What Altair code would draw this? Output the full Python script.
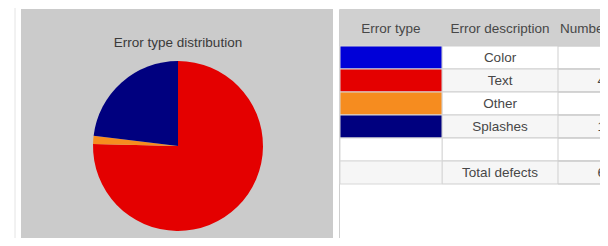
import altair as alt
import pandas as pd

# ---- data ----
error_types = ["Color", "Text", "Other", "Splashes"]
defect_counts = [0, 49, 1, 15]
type_colors = ["#0000d8", "#e40000", "#f68c1f", "#00007f"]
header_labels = ["Error type", "Error description", "Number of defects"]
total_label = "Total defects"
chart_title = "Error type distribution"

total = sum(defect_counts)

FONT = "Liberation Sans"
TXT = "#474747"

pie_df = pd.DataFrame({"type": error_types, "count": defect_counts,
                       "order": list(range(len(error_types)))})

row_keys = ["r0", "r1", "r2", "r3", "r4", "r5"]
table_df = pd.DataFrame({
    "row": row_keys,
    "desc": error_types + ["", total_label],
    "num": [str(v) for v in defect_counts] + ["", str(total)],
    "swatch": type_colors + ["#ffffff", "#f6f6f6"],
    "shade": ["#ffffff", "#f6f6f6", "#ffffff", "#f6f6f6", "#ffffff", "#f6f6f6"],
})

color_scale = alt.Scale(domain=error_types, range=type_colors)
row_scale = alt.Scale(domain=row_keys, range=[38, 176], paddingInner=0, paddingOuter=0)
Yrow = alt.Y("row:N", scale=row_scale, axis=None)

one = alt.Data(values=[{"a": 1}])

# background panels
left_panel = alt.Chart(one).mark_rect(fill="#cbcbcb").encode(
    x=alt.value(13), x2=alt.value(325), y=alt.value(1), y2=alt.value(236))
right_panel = alt.Chart(one).mark_rect(fill="#ffffff", stroke="#cfcfcf", strokeWidth=1).encode(
    x=alt.value(331.5), x2=alt.value(640), y=alt.value(1.5), y2=alt.value(235.5))
outer_line = alt.Chart(one).mark_rule(color="#e4e4e4").encode(
    x=alt.value(7), y=alt.value(0), y2=alt.value(240))

title = alt.Chart(one).mark_text(text=chart_title, font=FONT, fontSize=13.5,
                                 color="#3a3a3a", baseline="alphabetic").encode(
    x=alt.value(170), y=alt.value(39))

pie = alt.Chart(pie_df).mark_arc(radius=85).encode(
    theta=alt.Theta("count:Q", stack=True),
    color=alt.Color("type:N", scale=color_scale, legend=None),
    order=alt.Order("order:Q"),
    x=alt.value(170), y=alt.value(138))

# table
header_bg = alt.Chart(one).mark_rect(fill="#d0d0d0").encode(
    x=alt.value(332), x2=alt.value(640), y=alt.value(2), y2=alt.value(38))
hdr_df = pd.DataFrame({"label": header_labels, "col": [0, 1, 2]})
hdr_pos = [(383, "center"), (492, "center"), (552, "left")]
header_layers = [
    alt.Chart(hdr_df).transform_filter(f"datum.col == {i}").mark_text(
        font=FONT, fontSize=13.5, color=TXT, baseline="middle", align=al).encode(
        x=alt.value(px), y=alt.value(21), text="label:N")
    for i, (px, al) in enumerate(hdr_pos)
]

row_bg = alt.Chart(table_df).mark_rect(stroke="#cfcfcf", strokeWidth=1).encode(
    x=alt.value(434), x2=alt.value(640), y=Yrow,
    fill=alt.Fill("shade:N", scale=None))
sw_bg = alt.Chart(table_df).mark_rect(stroke="#d8d8d8", strokeWidth=1).encode(
    x=alt.value(332), x2=alt.value(434), y=Yrow,
    fill=alt.Fill("swatch:N", scale=None))
col_line = alt.Chart(table_df).mark_rect(fill=None, stroke="#cfcfcf", strokeWidth=1).encode(
    x=alt.value(550), x2=alt.value(640), y=Yrow)
desc_text = alt.Chart(table_df).mark_text(font=FONT, fontSize=13.5, color=TXT).encode(
    x=alt.value(492), y=Yrow, text="desc:N")
num_text = alt.Chart(table_df).mark_text(font=FONT, fontSize=13.5, color=TXT).encode(
    x=alt.value(597), y=Yrow, text="num:N")

chart = alt.layer(
    outer_line, left_panel, right_panel, title, pie,
    header_bg, *header_layers, row_bg, sw_bg, col_line, desc_text, num_text,
).properties(
    width=592, height=230, background="#ffffff", padding=0,
    autosize=alt.AutoSizeParams(type="none"),
).configure_view(stroke=None)

chart.save("out.html", embed_options={"renderer": "svg", "actions": False})
